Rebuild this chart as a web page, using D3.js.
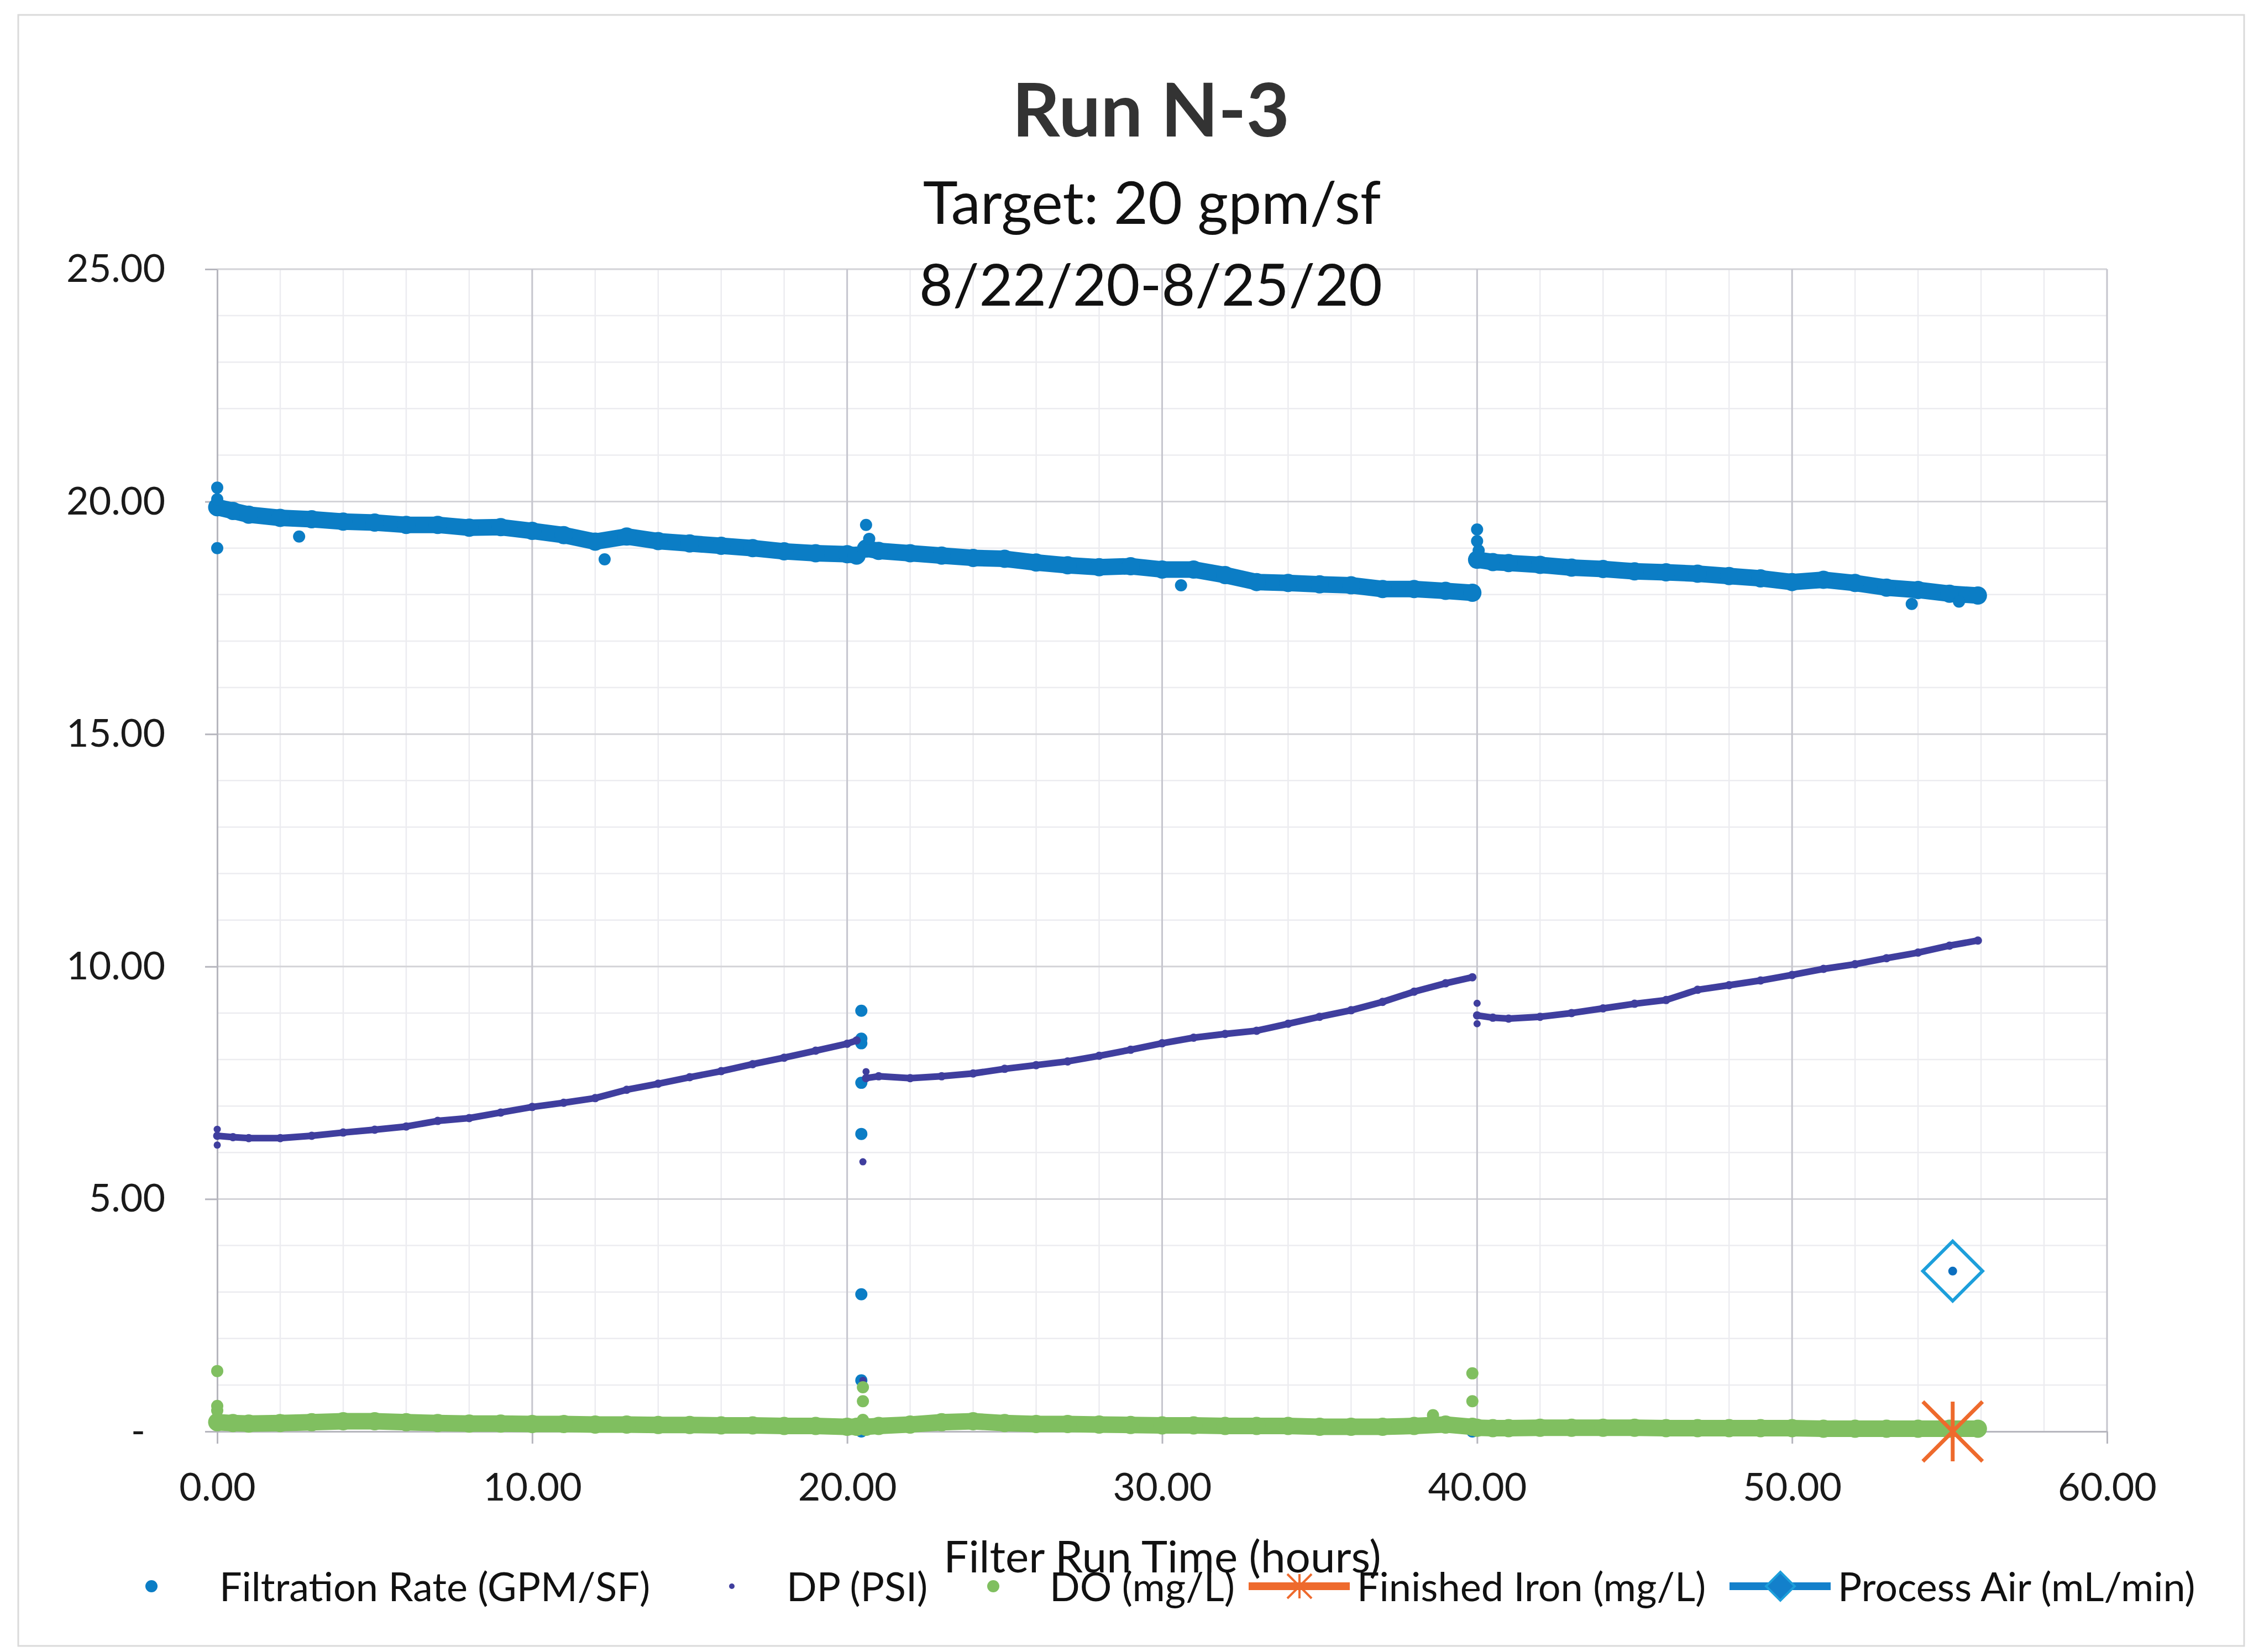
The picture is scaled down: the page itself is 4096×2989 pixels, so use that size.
<!DOCTYPE html>
<html>
<head>
<meta charset="utf-8">
<script src="https://cdn.jsdelivr.net/npm/d3@7"></script>
<style>
  body { margin: 0; background: #fff; }
  svg { display: block; font-family: Lato, "Open Sans", sans-serif; }
</style>
</head>
<body>
<svg id="chart" width="4096" height="2989"></svg>
<script>
// Run N-3 : values (hours vs value)

// filter run 1 (start-up to first backwash)
const run1Hours = [0, 0.5, 1, 2, 3, 4, 5, 6, 7, 8, 9, 10, 11, 12, 13, 14, 15, 16, 17, 18, 19, 20, 20.3];
const run1Rate  = [19.88, 19.8, 19.72, 19.65, 19.62, 19.57, 19.55, 19.5, 19.5, 19.44, 19.45, 19.37, 19.28, 19.14, 19.25, 19.15, 19.1, 19.05, 19.0, 18.93, 18.89, 18.87, 18.84];
const run1DP    = [6.36, 6.33, 6.31, 6.31, 6.36, 6.43, 6.49, 6.56, 6.68, 6.74, 6.86, 6.98, 7.07, 7.17, 7.35, 7.48, 7.62, 7.75, 7.9, 8.04, 8.19, 8.34, 8.41];
const run1DO    = [0.2, 0.18, 0.17, 0.18, 0.2, 0.22, 0.22, 0.2, 0.18, 0.17, 0.17, 0.16, 0.16, 0.15, 0.15, 0.14, 0.14, 0.13, 0.13, 0.12, 0.12, 0.1, 0.1];

// filter run 2
const run2Hours = [20.6, 21, 22, 23, 24, 25, 26, 27, 28, 29, 30, 31, 32, 33, 34, 35, 36, 37, 38, 39, 39.85];
const run2Rate  = [18.99, 18.94, 18.89, 18.84, 18.79, 18.77, 18.69, 18.63, 18.59, 18.61, 18.54, 18.54, 18.42, 18.27, 18.25, 18.22, 18.2, 18.12, 18.12, 18.08, 18.04];
const run2DP    = [7.6, 7.64, 7.6, 7.64, 7.7, 7.8, 7.88, 7.96, 8.08, 8.21, 8.35, 8.47, 8.55, 8.62, 8.77, 8.92, 9.06, 9.24, 9.46, 9.64, 9.77];
const run2DO    = [0.1, 0.12, 0.15, 0.2, 0.22, 0.18, 0.16, 0.16, 0.15, 0.14, 0.13, 0.13, 0.12, 0.12, 0.12, 0.1, 0.1, 0.1, 0.12, 0.15, 0.1];

// filter run 3
const run3Hours = [40, 40.5, 41, 42, 43, 44, 45, 46, 47, 48, 49, 50, 51, 52, 53, 54, 55, 55.9];
const run3Rate  = [18.75, 18.7, 18.68, 18.64, 18.58, 18.55, 18.5, 18.48, 18.45, 18.4, 18.35, 18.27, 18.32, 18.25, 18.15, 18.1, 18.02, 17.98];
const run3DP    = [8.95, 8.9, 8.88, 8.92, 9.0, 9.1, 9.2, 9.28, 9.5, 9.6, 9.7, 9.82, 9.95, 10.05, 10.18, 10.3, 10.45, 10.56];
const run3DO    = [0.08, 0.07, 0.07, 0.08, 0.08, 0.08, 0.08, 0.07, 0.07, 0.07, 0.07, 0.07, 0.06, 0.06, 0.06, 0.06, 0.06, 0.06];

// single readings away from the bands (start-up spikes, backwash points)
const rateOddHours = [0, 0, 0, 2.6, 12.3, 20.45, 20.45, 20.45, 20.45, 20.45, 20.45, 20.45, 20.45, 20.6, 20.7, 30.6, 40, 40, 40.05, 39.85, 53.8, 55.3];
const rateOdd      = [20.3, 20.05, 19.0, 19.25, 18.76, 9.05, 8.45, 8.35, 7.5, 6.4, 2.95, 1.1, 0.0, 19.5, 19.2, 18.2, 19.4, 19.15, 18.95, 0.0, 17.8, 17.85];
const dpOddHours   = [0, 0, 20.5, 20.5, 20.6, 40, 40];
const dpOdd        = [6.5, 6.16, 5.8, 1.1, 7.74, 9.21, 8.77];
const doOddHours   = [0, 0, 0, 20.5, 20.5, 20.5, 38.6, 39.85, 39.85];
const doOdd        = [1.3, 0.55, 0.45, 0.95, 0.65, 0.25, 0.35, 1.25, 0.65];

const ironHours = [55.1];
const iron      = [0.0];
const airHours  = [55.1];
const air       = [3.45];

const xTicks = [0, 10, 20, 30, 40, 50, 60];
const yTicks = [0, 5, 10, 15, 20, 25];
const seriesNames = ["Filtration Rate (GPM/SF)", "DP (PSI)", "DO (mg/L)", "Finished Iron (mg/L)", "Process Air (mL/min)"];

const colors = {rate: "#0b7dc5", dp: "#3f3e9e", dox: "#80bf60", iron: "#ee6a2d", air: "#1d9fdb", airDot: "#0c6fbf"};

const svg = d3.select("#chart");
const width = +svg.attr("width"), height = +svg.attr("height");

const x = d3.scaleLinear().domain([0, 60]).range([393, 3812]);
const y = d3.scaleLinear().domain([0, 25]).range([2590, 487]);

svg.append("rect").attr("width", width).attr("height", height).attr("fill", "#fff");
// outer chart frame
svg.append("rect")
    .attr("x", 33).attr("y", 27).attr("width", 4027).attr("height", 2951)
    .attr("fill", "none").attr("stroke", "#dadada").attr("stroke-width", 3);

/* gridlines : minor every 2 h / 1 unit, major every 10 h / 5 units */
const grid = svg.append("g");
grid.selectAll(".vminor").data(d3.range(0, 61, 2)).join("line")
    .attr("x1", d => x(d)).attr("x2", d => x(d))
    .attr("y1", y(25)).attr("y2", y(0))
    .attr("stroke", "#ececf0").attr("stroke-width", 2.5);
grid.selectAll(".hminor").data(d3.range(0, 26, 1)).join("line")
    .attr("x1", x(0)).attr("x2", x(60))
    .attr("y1", d => y(d)).attr("y2", d => y(d))
    .attr("stroke", "#ececf0").attr("stroke-width", 2.5);
grid.selectAll(".hmajor").data(yTicks.slice(1)).join("line")
    .attr("x1", x(0)).attr("x2", x(60))
    .attr("y1", d => y(d)).attr("y2", d => y(d))
    .attr("stroke", "#d4d4d8").attr("stroke-width", 3);
grid.selectAll(".vmajor").data(xTicks.slice(1)).join("line")
    .attr("x1", d => x(d)).attr("x2", d => x(d))
    .attr("y1", y(25)).attr("y2", y(0))
    .attr("stroke", "#c6c6ce").attr("stroke-width", 3);

// axes
const xAxis = svg.append("g")
    .attr("transform", "translate(0," + y(0) + ")")
    .call(d3.axisBottom(x).tickValues(xTicks).tickSize(22).tickSizeOuter(0)
        .tickFormat(d => d.toFixed(2)));
xAxis.selectAll("text").attr("y", 100).attr("dy", "0.36em");

const yAxis = svg.append("g")
    .attr("transform", "translate(" + x(0) + ",0)")
    .call(d3.axisLeft(y).tickValues(yTicks).tickSize(22).tickSizeOuter(0).tickPadding(72)
        .tickFormat(d => d === 0 ? "-" : d.toFixed(2)));
yAxis.selectAll("text").filter(d => d === 0).attr("dx", -36);

[xAxis, yAxis].forEach(ax => {
    ax.select(".domain").attr("stroke", "#b6b6be").attr("stroke-width", 3);
    ax.selectAll(".tick line").attr("stroke", "#b6b6be").attr("stroke-width", 3);
    ax.selectAll("text").attr("font-family", "Lato").attr("font-size", 70).attr("fill", "#1a1a1a");
});

/* series : each scanned run is a dense band of markers */
function drawBand(hours, values, color, w) {
    const pts = hours.map((h, i) => [h, values[i]]);
    const g = svg.append("g");
    g.append("path").datum(pts)
        .attr("d", d3.line().x(d => x(d[0])).y(d => y(d[1])))
        .attr("fill", "none").attr("stroke", color).attr("stroke-width", w)
        .attr("stroke-linecap", "round").attr("stroke-linejoin", "round");
    g.selectAll("circle").data(pts).join("circle")
        .attr("cx", d => x(d[0])).attr("cy", d => y(d[1]))
        .attr("r", w / 2 + 1.5).attr("fill", color);
}

function drawDots(hours, values, color, r) {
    svg.append("g").selectAll("circle")
        .data(hours.map((h, i) => [h, values[i]]))
        .join("circle")
        .attr("cx", d => x(d[0])).attr("cy", d => y(d[1]))
        .attr("r", r).attr("fill", color);
}

// Filtration Rate
drawBand(run1Hours, run1Rate, colors.rate, 30);
drawBand(run2Hours, run2Rate, colors.rate, 30);
drawBand(run3Hours, run3Rate, colors.rate, 30);
drawDots(rateOddHours, rateOdd, colors.rate, 11);
// DP
drawBand(run1Hours, run1DP, colors.dp, 12);
drawBand(run2Hours, run2DP, colors.dp, 12);
drawBand(run3Hours, run3DP, colors.dp, 12);
drawDots(dpOddHours, dpOdd, colors.dp, 6.5);
// DO
drawBand(run1Hours, run1DO, colors.dox, 30);
drawBand(run2Hours, run2DO, colors.dox, 30);
drawBand(run3Hours, run3DO, colors.dox, 30);
drawDots(doOddHours, doOdd, colors.dox, 11);

// Finished Iron : star marker (X plus vertical bar)
function star(g, cx, cy, s, color, sw) {
    g.append("path")
        .attr("d", `M${cx - s},${cy - s}L${cx + s},${cy + s}M${cx + s},${cy - s}L${cx - s},${cy + s}M${cx},${cy - s}L${cx},${cy + s}`)
        .attr("stroke", color).attr("stroke-width", sw).attr("fill", "none");
}
const ironG = svg.append("g");
ironHours.forEach((h, i) => star(ironG, x(h), y(iron[i]), 54, colors.iron, 7));

// Process Air : open diamond with dot
function diamond(g, cx, cy, s, sw) {
    g.append("path")
        .attr("d", `M${cx},${cy - s}L${cx + s},${cy}L${cx},${cy + s}L${cx - s},${cy}Z`)
        .attr("fill", "none").attr("stroke", colors.air).attr("stroke-width", sw);
}
const airG = svg.append("g");
airHours.forEach((h, i) => {
    diamond(airG, x(h), y(air[i]), 54, 6);
    airG.append("circle").attr("cx", x(h)).attr("cy", y(air[i])).attr("r", 8).attr("fill", colors.airDot);
});

// titles
svg.append("text").attr("x", 2082).attr("y", 247).attr("text-anchor", "middle")
    .attr("font-size", 135).attr("font-weight", "bold").attr("fill", "#333")
    .text("Run N-3");
svg.append("text").attr("x", 2084).attr("y", 405).attr("text-anchor", "middle")
    .attr("font-size", 107).attr("fill", "#111")
    .text("Target: 20 gpm/sf");
svg.append("text").attr("x", 2082).attr("y", 553).attr("text-anchor", "middle")
    .attr("font-size", 105).attr("fill", "#111")
    .text("8/22/20-8/25/20");

// axis title
svg.append("text").attr("x", 2103).attr("y", 2845).attr("text-anchor", "middle")
    .attr("font-size", 80).attr("fill", "#111")
    .text("Filter Run Time (hours)");

/* legend */
const legendY = 2897, markY = 2870;
const legendTextX = [397, 1423, 1899, 2455, 3325];
const legend = svg.append("g");
legend.selectAll("text").data(seriesNames).join("text")
    .attr("x", (d, i) => legendTextX[i]).attr("y", legendY)
    .attr("font-size", 72).attr("fill", "#111")
    .text(d => d);
legend.append("circle").attr("cx", 274).attr("cy", markY).attr("r", 11).attr("fill", colors.rate);
legend.append("circle").attr("cx", 1324).attr("cy", markY).attr("r", 5).attr("fill", colors.dp);
legend.append("circle").attr("cx", 1797).attr("cy", markY).attr("r", 11).attr("fill", colors.dox);
legend.append("line").attr("x1", 2259).attr("x2", 2442).attr("y1", markY).attr("y2", markY)
    .attr("stroke", colors.iron).attr("stroke-width", 14);
star(legend, 2351, markY, 22, colors.iron, 4);
legend.append("line").attr("x1", 3129).attr("x2", 3312).attr("y1", markY).attr("y2", markY)
    .attr("stroke", "#1380cb").attr("stroke-width", 14);
legend.append("path")
    .attr("d", `M3221,${markY - 26}L3247,${markY}L3221,${markY + 26}L3195,${markY}Z`)
    .attr("fill", "#1380cb").attr("stroke", colors.air).attr("stroke-width", 4);
</script>
</body>
</html>
